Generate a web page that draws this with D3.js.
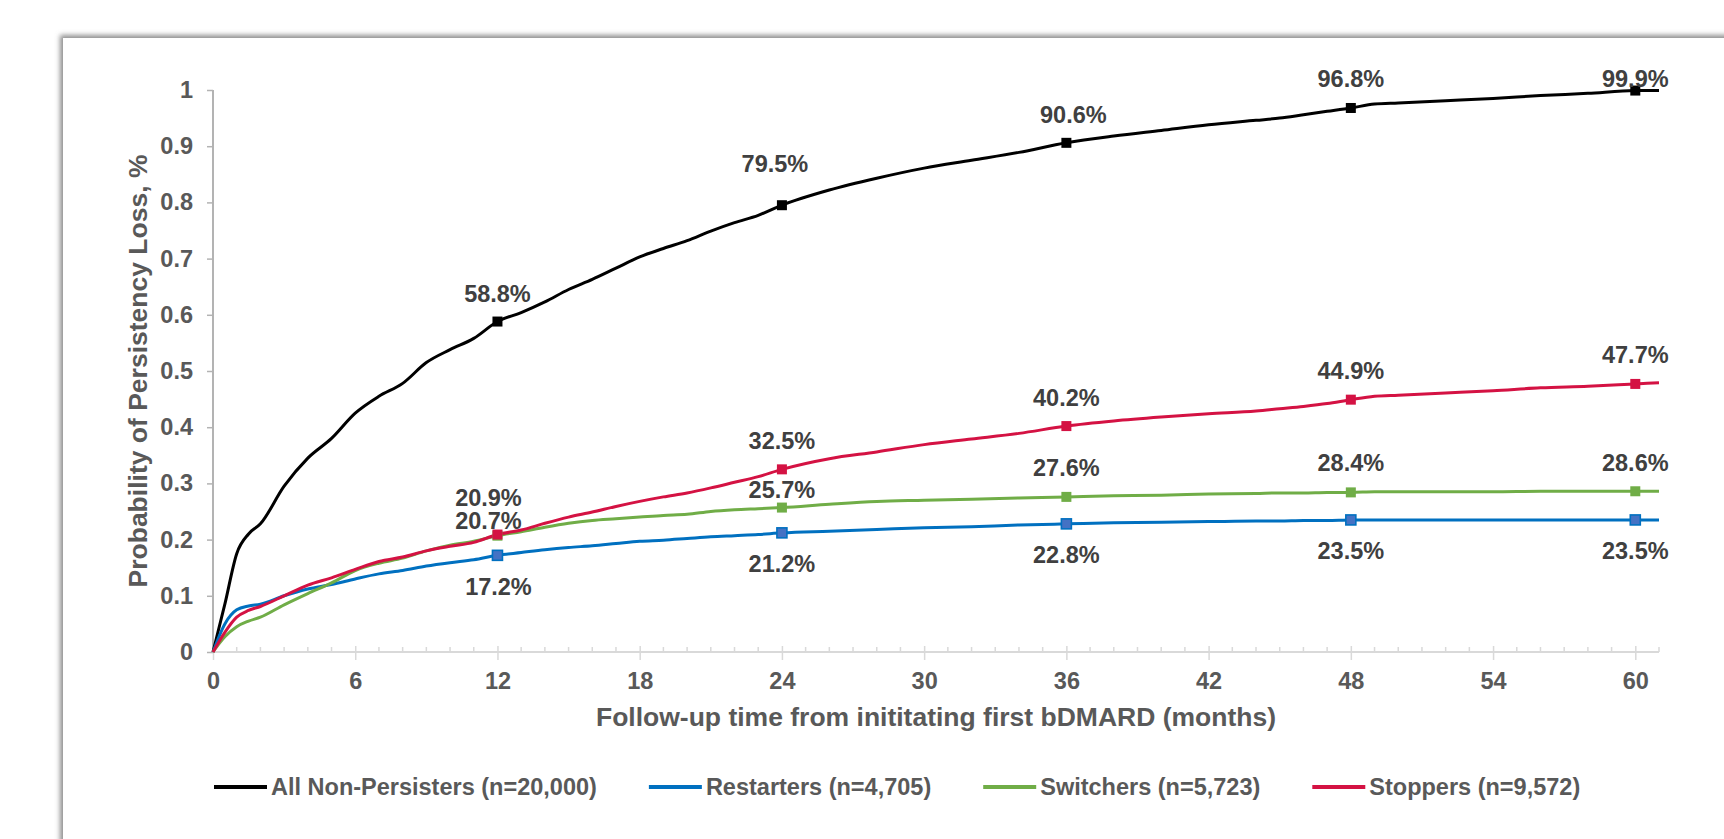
<!DOCTYPE html>
<html>
<head>
<meta charset="utf-8">
<script src="https://cdn.jsdelivr.net/npm/d3@7"></script>
<style>
  html, body { margin: 0; padding: 0; background: #ffffff; }
  svg { display: block; }
  text { font-family: "Liberation Sans", Arial, sans-serif; font-weight: bold; }
</style>
</head>
<body>
<svg id="chart" width="1724" height="839"></svg>
<script>
// Follow-up months at which each cumulative curve is sampled
const months = [0, 0.5, 1, 1.5, 2, 3, 4, 5, 6, 7, 8, 9, 10, 11, 12, 13, 14, 15, 16, 17, 18, 19, 20,
  21, 22, 23, 24, 26, 28, 30, 32, 34, 36, 38, 40, 42, 44, 45, 46, 47, 48, 49, 50, 52, 54, 56, 58, 60, 61];

// Probability of persistency loss per group
const allNonPersisters = [0, 0.085, 0.175, 0.21, 0.228, 0.295, 0.345, 0.38, 0.425, 0.455, 0.478, 0.515,
  0.538, 0.558, 0.588, 0.604, 0.623, 0.645, 0.663, 0.683, 0.703, 0.718, 0.732, 0.749, 0.764, 0.777,
  0.795, 0.822, 0.843, 0.861, 0.875, 0.889, 0.906, 0.918, 0.928, 0.938, 0.946, 0.950, 0.956, 0.962,
  0.968, 0.975, 0.977, 0.981, 0.985, 0.990, 0.994, 0.999, 0.999];
const restarters = [0, 0.05, 0.075, 0.082, 0.085, 0.1, 0.112, 0.12, 0.13, 0.139, 0.145, 0.153, 0.159,
  0.164, 0.172, 0.177, 0.182, 0.186, 0.189, 0.193, 0.197, 0.199, 0.202, 0.205, 0.207, 0.209, 0.212,
  0.215, 0.218, 0.221, 0.223, 0.226, 0.228, 0.230, 0.231, 0.232, 0.233, 0.233, 0.234, 0.234, 0.235,
  0.235, 0.235, 0.235, 0.235, 0.235, 0.235, 0.235, 0.235];
const switchers = [0, 0.027, 0.045, 0.055, 0.062, 0.084, 0.104, 0.123, 0.145, 0.158, 0.167, 0.18, 0.19,
  0.197, 0.207, 0.214, 0.222, 0.229, 0.234, 0.237, 0.240, 0.243, 0.245, 0.250, 0.253, 0.255, 0.257,
  0.263, 0.268, 0.270, 0.272, 0.274, 0.276, 0.278, 0.279, 0.281, 0.282, 0.283, 0.283, 0.284, 0.284,
  0.285, 0.285, 0.285, 0.285, 0.286, 0.286, 0.286, 0.286];
const stoppers = [0, 0.035, 0.062, 0.074, 0.081, 0.1, 0.119, 0.132, 0.147, 0.161, 0.169, 0.18, 0.188,
  0.195, 0.209, 0.217, 0.229, 0.240, 0.249, 0.259, 0.268, 0.276, 0.283, 0.292, 0.302, 0.312, 0.325,
  0.344, 0.356, 0.369, 0.379, 0.389, 0.402, 0.411, 0.418, 0.424, 0.429, 0.433, 0.437, 0.442, 0.449,
  0.455, 0.457, 0.461, 0.465, 0.470, 0.473, 0.477, 0.479];

// Yearly milestones with their reported values
const milestoneMonths = [12, 24, 36, 48, 60];
const allNonPersistersAt = [0.588, 0.795, 0.906, 0.968, 0.999];
const restartersAt = [0.172, 0.212, 0.228, 0.235, 0.235];
const switchersAt = [0.207, 0.257, 0.276, 0.284, 0.286];
const stoppersAt = [0.209, 0.325, 0.402, 0.449, 0.477];

const seriesNames = ["All Non-Persisters (n=20,000)", "Restarters (n=4,705)",
  "Switchers (n=5,723)", "Stoppers (n=9,572)"];

const xTicks = [0, 6, 12, 18, 24, 30, 36, 42, 48, 54, 60];
const yTicks = [0, 0.1, 0.2, 0.3, 0.4, 0.5, 0.6, 0.7, 0.8, 0.9, 1];
const xTitle = "Follow-up time from inititating first bDMARD (months)";
const yTitle = "Probability of Persistency Loss, %";

// Styling per series
const styles = [
  { color: "#000000", fill: "#000000", stroke: "#000000" },
  { color: "#0070C0", fill: "#4472C4", stroke: "#0070C0" },
  { color: "#70AD47", fill: "#70AD47", stroke: "#70AD47" },
  { color: "#D41243", fill: "#D41243", stroke: "#D41243" }
];
// Label placement around each milestone marker: [dx, dy to baseline]
const labelPlacement = [
  [[0, -19.5], [-7, -33], [7, -20], [0, -21], [0, -4]],
  [[1, 40], [0, 39], [0, 39.5], [0, 39], [0, 39]],
  [[-9, -7], [0, -10], [0, -21], [0, -21], [0, -20]],
  [[-9, -28.5], [0, -20], [0, -20], [0, -21], [0, -21]]
];

const curves = [allNonPersisters, restarters, switchers, stoppers];
const milestones = [allNonPersistersAt, restartersAt, switchersAt, stoppersAt];

const svg = d3.select("#chart");

// Panel with soft shadow on its top and left edges
const defs = svg.append("defs");
const f = defs.append("filter").attr("id", "panelShadow")
  .attr("x", "-5%").attr("y", "-5%").attr("width", "110%").attr("height", "110%");
f.append("feDropShadow").attr("dx", -3).attr("dy", -3).attr("stdDeviation", 2.6)
  .attr("flood-color", "#7a7a7a").attr("flood-opacity", 0.85);
svg.append("rect").attr("x", 63).attr("y", 38).attr("width", 1720).attr("height", 860)
  .attr("fill", "#ffffff").attr("filter", "url(#panelShadow)");

const x = d3.scaleLinear().domain([0, 61]).range([213, 1659]);
const y = d3.scaleLinear().domain([0, 1]).range([652, 90]);

// X axis: line, monthly minor ticks, six-month major ticks
const xAxisG = svg.append("g");
xAxisG.append("line").attr("x1", x(0)).attr("x2", x(61)).attr("y1", y(0)).attr("y2", y(0))
  .attr("stroke", "#d9d9d9").attr("stroke-width", 2);
xAxisG.selectAll("line.minor").data(d3.range(1, 62).filter(m => m % 6 !== 0)).join("line")
  .attr("class", "minor")
  .attr("x1", d => x(d)).attr("x2", d => x(d)).attr("y1", y(0) - 5).attr("y2", y(0))
  .attr("stroke", "#d9d9d9").attr("stroke-width", 1.5);
const xAx = d3.axisBottom(x).tickValues(xTicks).tickSize(8).tickPadding(20).tickFormat(d3.format("d"));
const xg = svg.append("g").attr("transform", `translate(0,${y(0)})`).call(xAx);
xg.select(".domain").remove();
xg.selectAll(".tick line").attr("y1", -6).attr("stroke", "#d9d9d9").attr("stroke-width", 1.5);
xg.selectAll(".tick text").attr("fill", "#595959").attr("font-size", "23.5px")
  .attr("font-family", "Liberation Sans, Arial, sans-serif").attr("font-weight", "bold")
  .attr("dy", null).attr("y", 37);

// Y axis
const yAx = d3.axisLeft(y).tickValues(yTicks).tickSize(6).tickPadding(14).tickFormat(d => d3.format("")(d));
const yg = svg.append("g").attr("transform", `translate(${x(0)},0)`).call(yAx);
yg.select(".domain").attr("stroke", "#b3b3b3").attr("stroke-width", 2)
  .attr("d", `M0,${y(1)}V${y(0)}`);
yg.selectAll(".tick line").attr("stroke", "#b3b3b3").attr("stroke-width", 1.5);
yg.selectAll(".tick text").attr("fill", "#595959").attr("font-size", "23.5px")
  .attr("font-family", "Liberation Sans, Arial, sans-serif").attr("font-weight", "bold");

// Axis titles
svg.append("text").attr("x", (x(0) + x(61)) / 2).attr("y", 726)
  .attr("text-anchor", "middle").attr("fill", "#595959").attr("font-size", "26.5px").text(xTitle);
svg.append("text").attr("transform", `translate(147,${(y(0) + y(1)) / 2}) rotate(-90)`)
  .attr("text-anchor", "middle").attr("fill", "#595959").attr("font-size", "26.5px").text(yTitle);

// Curves
const line = d3.line().x(d => x(d[0])).y(d => y(d[1])).curve(d3.curveMonotoneX);
curves.forEach((vals, i) => {
  const pts = months.map((m, k) => [m, vals[k]]);
  svg.append("path").datum(pts).attr("d", line).attr("fill", "none")
    .attr("stroke", styles[i].color).attr("stroke-width", 3).attr("stroke-linejoin", "round");
});

// Milestone markers
milestones.forEach((vals, i) => {
  svg.append("g").selectAll("rect").data(milestoneMonths.map((m, k) => [m, vals[k]])).join("rect")
    .attr("x", d => x(d[0]) - 5).attr("y", d => y(d[1]) - 5).attr("width", 10).attr("height", 10)
    .attr("fill", styles[i].fill).attr("stroke", styles[i].stroke)
    .attr("stroke-width", i === 1 ? 1.6 : 0);
});

// Value labels
milestones.forEach((vals, i) => {
  svg.append("g").selectAll("text").data(milestoneMonths.map((m, k) => [m, vals[k], k])).join("text")
    .attr("x", d => x(d[0]) + labelPlacement[i][d[2]][0])
    .attr("y", d => y(d[1]) + labelPlacement[i][d[2]][1])
    .attr("text-anchor", "middle").attr("fill", "#404040").attr("font-size", "23.5px")
    .text(d => d3.format(".1f")(d[1] * 100) + "%");
});

// Legend laid out left to right
const legend = svg.append("g");
let lx = 214;
const ly = 787;
seriesNames.forEach((name, i) => {
  legend.append("line").attr("x1", lx).attr("x2", lx + 53).attr("y1", ly).attr("y2", ly)
    .attr("stroke", styles[i].color).attr("stroke-width", 4);
  const t = legend.append("text").attr("x", lx + 57).attr("y", ly + 8)
    .attr("fill", "#595959").attr("font-size", "23.5px").text(name);
  lx += 57 + t.node().getComputedTextLength() + 52;
});
</script>
</body>
</html>
